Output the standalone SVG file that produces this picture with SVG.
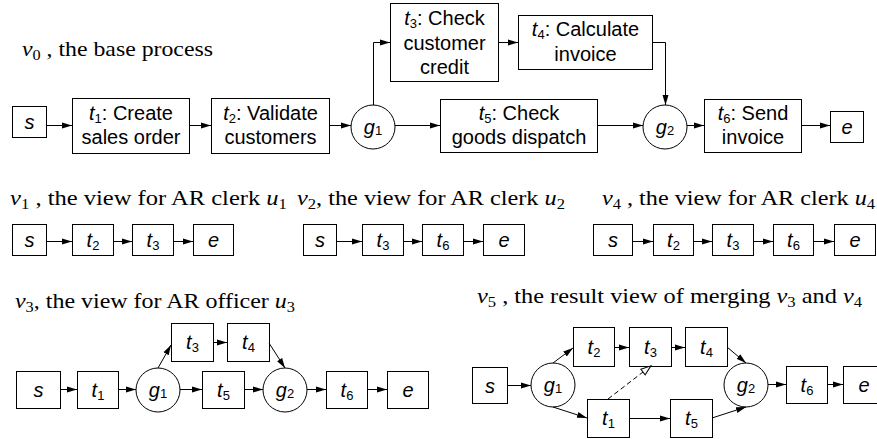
<svg xmlns="http://www.w3.org/2000/svg" width="877" height="439" viewBox="0 0 877 439">
  <style>
    .box { fill: #fff; stroke: #000; stroke-width: 1; }
    .gw { fill: #fff; stroke: #000; stroke-width: 1; }
    .n { font-family: "Liberation Sans", Arial, sans-serif; font-size: 20px; fill: #000; text-anchor: middle; }
    .i { font-style: italic; }
    .sb { font-size: 13px; font-style: normal; }
    .lbl { font-family: "Liberation Serif", "Times New Roman", serif; font-size: 22px; fill: #000; }
    .ls { font-size: 15px; font-style: normal; }
    .c { fill: none; stroke: #000; stroke-width: 1; marker-end: url(#ah); }
    .d { fill: none; stroke: #000; stroke-width: 1; stroke-dasharray: 5 3; marker-end: url(#oh); }
  </style>
  <defs>
    <marker id="ah" markerWidth="10" markerHeight="8" refX="10" refY="4" orient="auto" markerUnits="userSpaceOnUse">
      <path d="M0,1 L10,4 L0,7 z" fill="#000"/>
    </marker>
    <marker id="oh" markerWidth="12" markerHeight="10" refX="1" refY="5" orient="auto" markerUnits="userSpaceOnUse">
      <path d="M1,1.5 L11,5 L1,8.5 z" fill="#fff" stroke="#000" stroke-width="1"/>
    </marker>
  </defs>
  <rect width="877" height="439" fill="#fff"/>

  <!-- captions -->
  <g id="captions">
    <text class="lbl" x="22" y="56" textLength="191" lengthAdjust="spacingAndGlyphs"><tspan class="i">v</tspan><tspan class="ls" dy="4">0</tspan><tspan dy="-4"> , the base process</tspan></text>
    <text class="lbl" x="10" y="205" textLength="277" lengthAdjust="spacingAndGlyphs"><tspan class="i">v</tspan><tspan class="ls" dy="4">1</tspan><tspan dy="-4"> , the view for AR clerk </tspan><tspan class="i">u</tspan><tspan class="ls" dy="4">1</tspan></text>
    <text class="lbl" x="297" y="205" textLength="268" lengthAdjust="spacingAndGlyphs"><tspan class="i">v</tspan><tspan class="ls" dy="4">2</tspan><tspan dy="-4">, the view for AR clerk </tspan><tspan class="i">u</tspan><tspan class="ls" dy="4">2</tspan></text>
    <text class="lbl" x="602" y="205" textLength="273" lengthAdjust="spacingAndGlyphs"><tspan class="i">v</tspan><tspan class="ls" dy="4">4</tspan><tspan dy="-4"> , the view for AR clerk </tspan><tspan class="i">u</tspan><tspan class="ls" dy="4">4</tspan></text>
    <text class="lbl" x="15" y="308" textLength="280" lengthAdjust="spacingAndGlyphs"><tspan class="i">v</tspan><tspan class="ls" dy="4">3</tspan><tspan dy="-4">, the view for AR officer </tspan><tspan class="i">u</tspan><tspan class="ls" dy="4">3</tspan></text>
    <text class="lbl" x="477" y="303" textLength="385" lengthAdjust="spacingAndGlyphs"><tspan class="i">v</tspan><tspan class="ls" dy="4">5</tspan><tspan dy="-4"> , the result view of merging </tspan><tspan class="i">v</tspan><tspan class="ls" dy="4">3</tspan><tspan dy="-4"> and </tspan><tspan class="i">v</tspan><tspan class="ls" dy="4">4</tspan></text>
  </g>

  <!-- v0: base process -->
  <g id="v0-s"><rect class="box" x="12.5" y="106.5" width="34" height="31"/><text class="n i" x="29.5" y="129">s</text></g>
  <g id="v0-t1"><rect class="box" x="72.5" y="98.5" width="117" height="55"/>
    <text class="n" x="131" y="120"><tspan class="i">t</tspan><tspan class="sb" dy="3">1</tspan><tspan dy="-3">: Create</tspan></text>
    <text class="n" x="131" y="144">sales order</text></g>
  <g id="v0-t2"><rect class="box" x="211.5" y="98.5" width="118" height="55"/>
    <text class="n" x="270.5" y="120"><tspan class="i">t</tspan><tspan class="sb" dy="3">2</tspan><tspan dy="-3">: Validate</tspan></text>
    <text class="n" x="270.5" y="144">customers</text></g>
  <g id="v0-g1"><circle class="gw" cx="373" cy="127" r="22"/><text class="n" x="373" y="134"><tspan class="i">g</tspan><tspan class="sb" dy="1">1</tspan></text></g>
  <g id="v0-t3"><rect class="box" x="390.5" y="3.5" width="108" height="78"/>
    <text class="n" x="444.5" y="25"><tspan class="i">t</tspan><tspan class="sb" dy="3">3</tspan><tspan dy="-3">: Check</tspan></text>
    <text class="n" x="444.5" y="50">customer</text>
    <text class="n" x="444.5" y="74">credit</text></g>
  <g id="v0-t4"><rect class="box" x="518.5" y="15.5" width="134" height="54"/>
    <text class="n" x="585.5" y="36"><tspan class="i">t</tspan><tspan class="sb" dy="3">4</tspan><tspan dy="-3">: Calculate</tspan></text>
    <text class="n" x="585.5" y="61">invoice</text></g>
  <g id="v0-t5"><rect class="box" x="440.5" y="99.5" width="157" height="53"/>
    <text class="n" x="519" y="120"><tspan class="i">t</tspan><tspan class="sb" dy="3">5</tspan><tspan dy="-3">: Check</tspan></text>
    <text class="n" x="519" y="144">goods dispatch</text></g>
  <g id="v0-g2"><circle class="gw" cx="665" cy="127" r="22"/><text class="n" x="665" y="134"><tspan class="i">g</tspan><tspan class="sb" dy="1">2</tspan></text></g>
  <g id="v0-t6"><rect class="box" x="704.5" y="99.5" width="97" height="53"/>
    <text class="n" x="753" y="120"><tspan class="i">t</tspan><tspan class="sb" dy="3">6</tspan><tspan dy="-3">: Send</tspan></text>
    <text class="n" x="753" y="144">invoice</text></g>
  <g id="v0-e"><rect class="box" x="830.5" y="111.5" width="33" height="31"/><text class="n i" x="847" y="134">e</text></g>

  <!-- v1 -->
  <g id="v1-s"><rect class="box" x="12.5" y="224.5" width="34" height="31"/><text class="n i" x="29.5" y="247">s</text></g>
  <g id="v1-t2"><rect class="box" x="72.5" y="224.5" width="41" height="31"/><text class="n" x="93" y="247"><tspan class="i">t</tspan><tspan class="sb" dy="3">2</tspan></text></g>
  <g id="v1-t3"><rect class="box" x="132.5" y="224.5" width="41" height="31"/><text class="n" x="153" y="247"><tspan class="i">t</tspan><tspan class="sb" dy="3">3</tspan></text></g>
  <g id="v1-e"><rect class="box" x="193.5" y="224.5" width="40" height="31"/><text class="n i" x="213.5" y="247">e</text></g>

  <!-- v2 -->
  <g id="v2-s"><rect class="box" x="303.5" y="224.5" width="33" height="31"/><text class="n i" x="320" y="247">s</text></g>
  <g id="v2-t3"><rect class="box" x="362.5" y="224.5" width="41" height="31"/><text class="n" x="383" y="247"><tspan class="i">t</tspan><tspan class="sb" dy="3">3</tspan></text></g>
  <g id="v2-t6"><rect class="box" x="422.5" y="224.5" width="41" height="31"/><text class="n" x="443" y="247"><tspan class="i">t</tspan><tspan class="sb" dy="3">6</tspan></text></g>
  <g id="v2-e"><rect class="box" x="483.5" y="224.5" width="41" height="31"/><text class="n i" x="504" y="247">e</text></g>

  <!-- v4 -->
  <g id="v4-s"><rect class="box" x="593.5" y="224.5" width="39" height="31"/><text class="n i" x="613" y="247">s</text></g>
  <g id="v4-t2"><rect class="box" x="653.5" y="224.5" width="40" height="31"/><text class="n" x="673.5" y="247"><tspan class="i">t</tspan><tspan class="sb" dy="3">2</tspan></text></g>
  <g id="v4-t3"><rect class="box" x="712.5" y="224.5" width="41" height="31"/><text class="n" x="733" y="247"><tspan class="i">t</tspan><tspan class="sb" dy="3">3</tspan></text></g>
  <g id="v4-t6"><rect class="box" x="773.5" y="224.5" width="40" height="31"/><text class="n" x="793.5" y="247"><tspan class="i">t</tspan><tspan class="sb" dy="3">6</tspan></text></g>
  <g id="v4-e"><rect class="box" x="834.5" y="224.5" width="41" height="31"/><text class="n i" x="855" y="247">e</text></g>

  <!-- v3 -->
  <g id="v3-s"><rect class="box" x="16.5" y="371.5" width="44" height="37"/><text class="n i" x="38.5" y="397">s</text></g>
  <g id="v3-t1"><rect class="box" x="77.5" y="371.5" width="41" height="37"/><text class="n" x="98" y="397"><tspan class="i">t</tspan><tspan class="sb" dy="3">1</tspan></text></g>
  <g id="v3-g1"><circle class="gw" cx="158" cy="390" r="22"/><text class="n" x="158" y="397"><tspan class="i">g</tspan><tspan class="sb" dy="1">1</tspan></text></g>
  <g id="v3-t3"><rect class="box" x="171.5" y="323.5" width="42" height="38"/><text class="n" x="192.5" y="349"><tspan class="i">t</tspan><tspan class="sb" dy="3">3</tspan></text></g>
  <g id="v3-t4"><rect class="box" x="227.5" y="323.5" width="42" height="38"/><text class="n" x="248.5" y="349"><tspan class="i">t</tspan><tspan class="sb" dy="3">4</tspan></text></g>
  <g id="v3-t5"><rect class="box" x="202.5" y="371.5" width="42" height="37"/><text class="n" x="223.5" y="397"><tspan class="i">t</tspan><tspan class="sb" dy="3">5</tspan></text></g>
  <g id="v3-g2"><circle class="gw" cx="285" cy="390" r="22"/><text class="n" x="285" y="397"><tspan class="i">g</tspan><tspan class="sb" dy="1">2</tspan></text></g>
  <g id="v3-t6"><rect class="box" x="326.5" y="371.5" width="41" height="37"/><text class="n" x="347" y="397"><tspan class="i">t</tspan><tspan class="sb" dy="3">6</tspan></text></g>
  <g id="v3-e"><rect class="box" x="387.5" y="371.5" width="41" height="37"/><text class="n i" x="408" y="397">e</text></g>

  <!-- v5 -->
  <g id="v5-s"><rect class="box" x="472.5" y="367.5" width="35" height="36"/><text class="n i" x="490" y="393">s</text></g>
  <g id="v5-g1"><circle class="gw" cx="553" cy="385" r="22"/><text class="n" x="553" y="392"><tspan class="i">g</tspan><tspan class="sb" dy="1">1</tspan></text></g>
  <g id="v5-t2"><rect class="box" x="573.5" y="327.5" width="41" height="39"/><text class="n" x="594" y="354"><tspan class="i">t</tspan><tspan class="sb" dy="3">2</tspan></text></g>
  <g id="v5-t3"><rect class="box" x="629.5" y="327.5" width="42" height="39"/><text class="n" x="650.5" y="354"><tspan class="i">t</tspan><tspan class="sb" dy="3">3</tspan></text></g>
  <g id="v5-t4"><rect class="box" x="685.5" y="327.5" width="42" height="39"/><text class="n" x="706.5" y="354"><tspan class="i">t</tspan><tspan class="sb" dy="3">4</tspan></text></g>
  <g id="v5-t1"><rect class="box" x="587.5" y="399.5" width="42" height="38"/><text class="n" x="608.5" y="425"><tspan class="i">t</tspan><tspan class="sb" dy="3">1</tspan></text></g>
  <g id="v5-t5"><rect class="box" x="670.5" y="399.5" width="42" height="38"/><text class="n" x="691.5" y="425"><tspan class="i">t</tspan><tspan class="sb" dy="3">5</tspan></text></g>
  <g id="v5-g2"><circle class="gw" cx="746" cy="385" r="22"/><text class="n" x="746" y="392"><tspan class="i">g</tspan><tspan class="sb" dy="1">2</tspan></text></g>
  <g id="v5-t6"><rect class="box" x="786.5" y="366.5" width="41" height="37"/><text class="n" x="807" y="392"><tspan class="i">t</tspan><tspan class="sb" dy="3">6</tspan></text></g>
  <g id="v5-e"><rect class="box" x="843.5" y="366.5" width="41" height="37"/><text class="n i" x="864" y="392">e</text></g>

  <!-- connectors -->
  <g id="connectors">
    <!-- v0 -->
    <path class="c" d="M46,125.5 H72"/>
    <path class="c" d="M189,125.5 H211"/>
    <path class="c" d="M329,125.5 H351"/>
    <path class="c" d="M373.5,105 V42.5 H390"/>
    <path class="c" d="M395,125.5 H440"/>
    <path class="c" d="M498,42.5 H518"/>
    <path class="c" d="M652,42.5 H665.5 V105"/>
    <path class="c" d="M597,125.5 H643"/>
    <path class="c" d="M687,125.5 H704"/>
    <path class="c" d="M801,125.5 H830"/>
    <!-- v1 -->
    <path class="c" d="M46,241.5 H72"/>
    <path class="c" d="M113,241.5 H132"/>
    <path class="c" d="M173,241.5 H193"/>
    <!-- v2 -->
    <path class="c" d="M336,241.5 H362"/>
    <path class="c" d="M403,241.5 H422"/>
    <path class="c" d="M463,241.5 H483"/>
    <!-- v4 -->
    <path class="c" d="M632,241.5 H653"/>
    <path class="c" d="M693,241.5 H712"/>
    <path class="c" d="M753,241.5 H773"/>
    <path class="c" d="M813,241.5 H834"/>
    <!-- v3 -->
    <path class="c" d="M60,389.5 H77"/>
    <path class="c" d="M118,389.5 H136"/>
    <path class="c" d="M180,389.5 H202"/>
    <path class="c" d="M244,389.5 H263"/>
    <path class="c" d="M307,389.5 H326"/>
    <path class="c" d="M367,389.5 H387"/>
    <path class="c" d="M158,368 L171,345"/>
    <path class="c" d="M213,342.5 H227"/>
    <path class="c" d="M269,343 L285,368"/>
    <!-- v5 -->
    <path class="c" d="M507,385.5 H531"/>
    <path class="c" d="M553,363 L573,348"/>
    <path class="c" d="M553,407 L587,418"/>
    <path class="c" d="M614,347.5 H629"/>
    <path class="c" d="M671,347.5 H685"/>
    <path class="c" d="M727,347 L746,363"/>
    <path class="c" d="M629,418.5 H670"/>
    <path class="c" d="M712,418 L746,407"/>
    <path class="c" d="M768,384.5 H786"/>
    <path class="c" d="M827,384.5 H843"/>
    <path class="d" d="M608,399 L643,372"/>
  </g>
</svg>
